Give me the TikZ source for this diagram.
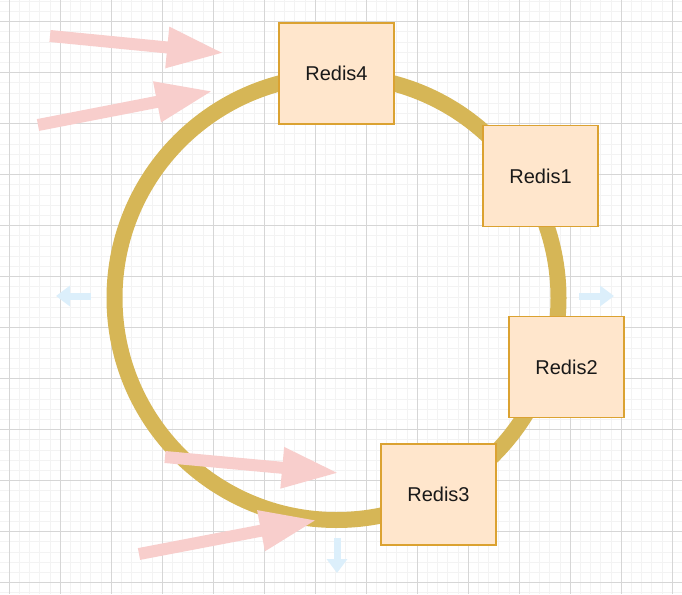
\documentclass[tikz,border=0pt]{standalone}
\usepackage{fontspec}
\setmainfont{Liberation Sans}
\usetikzlibrary{arrows.meta}
\definecolor{ringc}{HTML}{D6B656}
\definecolor{boxfill}{HTML}{FFE6CC}
\definecolor{boxline}{HTML}{DBA231}
\definecolor{pinkc}{HTML}{F8CECC}
\definecolor{bluec}{HTML}{DCEFFB}
\definecolor{minorc}{HTML}{F3F3F3}
\definecolor{majorc}{HTML}{D6D6D6}
\begin{document}
\begin{tikzpicture}[x=1pt,y=-1pt,
  minorline/.style={draw=minorc, line width=0.9pt},
  majorline/.style={draw=majorc, line width=0.9pt},
  box/.style={draw=boxline, fill=boxfill, line width=1.3pt, minimum width=115pt, minimum height=101pt, inner sep=0pt, font=\fontsize{20}{24}\selectfont, text=black!90},
  pinkarrow/.style={draw=pinkc, line width=12pt, -{Triangle[length=57pt,width=38pt]}},
  bluearrow/.style={draw=bluec, line width=7pt, -{Triangle[length=14pt,width=20pt]}}]
\useasboundingbox (0,0) rectangle (682,594);
\fill[white] (0,0) rectangle (682,594);
\foreach \i in {0,...,67} { \draw[minorline] ({-0.9+10.2*\i},0) -- ++(0,594); }
\foreach \i in {0,...,58} { \draw[minorline] (0,{1.3+10.2*\i}) -- ++(682,0); }
\foreach \i in {0,...,13} { \draw[majorline] ({9.3+51*\i},0) -- ++(0,594); }
\foreach \i in {0,...,11} { \draw[majorline] (0,{21.7+51*\i}) -- ++(682,0); }
% ring
\node[circle, draw=ringc, line width=16pt, minimum size=444pt, inner sep=0pt] (ring) at (336.5,298) {};
% blue arrows
\coordinate (bl1) at (90.7,296); \coordinate (bl2) at (56,296);
\coordinate (br1) at (579,296); \coordinate (br2) at (614,296);
\coordinate (bd1) at (337,538); \coordinate (bd2) at (337,573);
\draw[bluearrow] (bl1) -- (bl2);
\draw[bluearrow] (br1) -- (br2);
\draw[bluearrow] (bd1) -- (bd2);
% pink arrows
\coordinate (p1s) at (50,36); \coordinate (p1e) at (224,53);
\coordinate (p2s) at (38,125); \coordinate (p2e) at (213,91);
\coordinate (p3s) at (165,457); \coordinate (p3e) at (339,473);
\coordinate (p4s) at (139,554); \coordinate (p4e) at (317,520);
\draw[pinkarrow] (p1s) -- (p1e);
\draw[pinkarrow] (p2s) -- (p2e);
\draw[pinkarrow] (p3s) -- (p3e);
\draw[pinkarrow] (p4s) -- (p4e);
% boxes
\node[box] (r4) at (336.5,73.5) {Redis4};
\node[box] (r1) at (540.5,176) {Redis1};
\node[box] (r2) at (566.5,367) {Redis2};
\node[box] (r3) at (438.5,494.5) {Redis3};
\end{tikzpicture}
\end{document}
